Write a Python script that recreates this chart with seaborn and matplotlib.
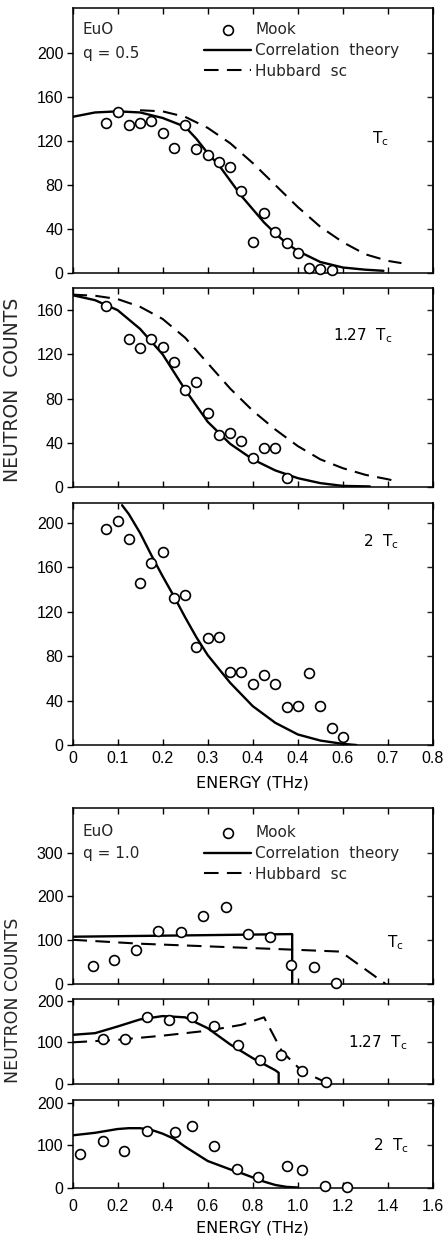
import numpy as np
import pandas as pd
import matplotlib
matplotlib.use("Agg")
import matplotlib.pyplot as plt
from matplotlib.ticker import FixedFormatter, FixedLocator
import seaborn as sns

# ---------------- data ----------------
# q = 0.5, T = Tc
p1_mook_x = [0.075, 0.1, 0.125, 0.15, 0.175, 0.2, 0.225, 0.25, 0.275, 0.3, 0.325,
             0.35, 0.375, 0.4, 0.425, 0.45, 0.475, 0.5, 0.525, 0.55, 0.575]
p1_mook_y = [136, 146, 135, 136, 138, 127, 114, 135, 113, 107, 101,
             96, 75, 28, 55, 37, 27, 18, 5, 4, 3]
p1_corr_x = [0, 0.05, 0.1, 0.15, 0.2, 0.25, 0.275, 0.3, 0.325, 0.35, 0.375, 0.4,
             0.425, 0.45, 0.475, 0.5, 0.55, 0.6, 0.65, 0.69]
p1_corr_y = [142, 146, 147, 146, 141, 133, 122, 109, 98, 84, 70, 58,
             46, 36, 27, 20, 10, 5, 3, 2]
p1_hub_x = [0.15, 0.2, 0.25, 0.3, 0.35, 0.4, 0.45, 0.5, 0.55, 0.6, 0.65, 0.7, 0.73]
p1_hub_y = [148, 147, 142, 132, 118, 100, 80, 60, 42, 28, 17, 11, 9]

# q = 0.5, T = 1.27 Tc
p2_mook_x = [0.075, 0.125, 0.15, 0.175, 0.2, 0.225, 0.25, 0.275, 0.3, 0.325,
             0.35, 0.375, 0.4, 0.425, 0.45, 0.475]
p2_mook_y = [164, 134, 126, 134, 127, 113, 88, 95, 67, 47, 49, 42, 26, 35, 35, 8]
p2_corr_x = [0, 0.05, 0.1, 0.15, 0.2, 0.25, 0.3, 0.35, 0.4, 0.45, 0.5, 0.55, 0.6, 0.66]
p2_corr_y = [173.5, 169, 160, 143, 120, 88, 59, 39, 25, 15, 8, 3.5, 1, 0.5]
p2_hub_x = [0, 0.05, 0.1, 0.15, 0.2, 0.25, 0.3, 0.35, 0.4, 0.45, 0.5, 0.55,
            0.6, 0.65, 0.7, 0.72]
p2_hub_y = [174, 173, 170, 163, 152, 135, 112, 89, 69, 52, 37, 25, 17, 11, 7, 5]

# q = 0.5, T = 2 Tc
p3_mook_x = [0.075, 0.1, 0.125, 0.15, 0.175, 0.2, 0.225, 0.25, 0.275, 0.3, 0.325,
             0.35, 0.375, 0.4, 0.425, 0.45, 0.475, 0.5, 0.525, 0.55, 0.575, 0.6]
p3_mook_y = [195, 202, 186, 146, 164, 174, 132, 135, 88, 96, 97,
             66, 66, 55, 63, 55, 34, 35, 65, 35, 15, 7]
p3_corr_x = [0.11, 0.125, 0.15, 0.175, 0.2, 0.225, 0.25, 0.275, 0.3, 0.35, 0.4,
             0.45, 0.5, 0.55, 0.6, 0.63]
p3_corr_y = [216, 208, 191, 171, 152, 134, 115, 97, 81, 56, 35, 20, 9.5, 4, 1, 0]

# q = 1.0, T = Tc
p4_mook_x = [0.09, 0.185, 0.28, 0.38, 0.48, 0.58, 0.68, 0.78, 0.875, 0.97, 1.07, 1.17]
p4_mook_y = [42, 55, 78, 122, 118, 156, 176, 114, 108, 43, 38, 3]
p4_corr_x = [0, 0.5, 0.975, 0.975]
p4_corr_y = [108, 111, 114, 0]
p4_hub_x = [0, 0.3, 0.6, 0.95, 1.19, 1.39]
p4_hub_y = [101, 92, 86, 79, 74, 0]

# q = 1.0, T = 1.27 Tc
p5_mook_x = [0.135, 0.235, 0.33, 0.43, 0.53, 0.63, 0.735, 0.83, 0.925, 1.02, 1.125]
p5_mook_y = [107, 107, 162, 153, 160, 139, 94, 58, 70, 31, 6]
p5_corr_x = [0, 0.1, 0.2, 0.3, 0.4, 0.5, 0.6, 0.7, 0.8, 0.9, 0.915, 0.915]
p5_corr_y = [118, 122, 138, 155, 163, 160, 134, 95, 62, 33, 27, 0]
p5_hub_x = [0, 0.2, 0.4, 0.6, 0.75, 0.85, 0.93, 1.02, 1.125]
p5_hub_y = [100, 106, 116, 128, 142, 160, 78, 30, 4]

# q = 1.0, T = 2 Tc
p6_mook_x = [0.035, 0.135, 0.23, 0.33, 0.455, 0.53, 0.63, 0.73, 0.825, 0.95, 1.02, 1.12, 1.22]
p6_mook_y = [80, 111, 86, 134, 131, 147, 98, 45, 24, 50, 42, 3, 2]
p6_corr_x = [0, 0.1, 0.2, 0.25, 0.3, 0.35, 0.4, 0.45, 0.5, 0.55, 0.6, 0.65,
             0.7, 0.75, 0.8, 0.85, 0.9, 0.95, 1.0]
p6_corr_y = [124, 130, 139, 141, 141, 137, 128, 116, 97, 80, 63, 53,
             43, 34, 24, 14, 6, 1.5, 0]

# ticks / labels
top_xticks = [0, 0.1, 0.2, 0.3, 0.4, 0.5, 0.6, 0.7, 0.8]
top_xticklabels = ["0", "0.1", "0.2", "0.3", "0.4", "0.4", "0.6", "0.7", "0.8"]
bot_xticks = [0, 0.2, 0.4, 0.6, 0.8, 1.0, 1.2, 1.4, 1.6]
bot_xticklabels = ["0", "0.2", "0.4", "0.6", "0.8", "1.0", "1.2", "1.4", "1.6"]

# ---------------- style ----------------
sns.set_theme(style="ticks")
plt.rcParams["font.family"] = ["DejaVu Sans"]
plt.rcParams["mathtext.default"] = "regular"
plt.rcParams["axes.linewidth"] = 1.1

TICKFONT = dict(family=["Liberation Sans", "DejaVu Sans"], size=11.5)
TXT = 11

fig = plt.figure(figsize=(4.45, 12.39), dpi=100)
L, W = 72.5 / 445, (433 - 72.5) / 445


def axes_px(top, bottom):
    return fig.add_axes([L, 1 - bottom / 1239, W, (bottom - top) / 1239])


def style_axes(ax, xlim, ylim, xticks, yticks, xlabels=None, xpad=4):
    ax.set_xlim(*xlim)
    ax.set_ylim(*ylim)
    ax.xaxis.set_major_locator(FixedLocator(xticks))
    ax.yaxis.set_major_locator(FixedLocator(yticks))
    ax.yaxis.set_major_formatter(FixedFormatter([str(v) for v in yticks]))
    if xlabels is None:
        ax.xaxis.set_major_formatter(FixedFormatter([""] * len(xticks)))
    else:
        ax.xaxis.set_major_formatter(FixedFormatter(xlabels))
    ax.tick_params(axis="x", direction="in", top=True, bottom=True, length=4.5,
                   width=1.0, colors="black", pad=xpad,
                   labelsize=TICKFONT["size"], labelfontfamily=TICKFONT["family"][0])
    ax.tick_params(axis="y", direction="out", left=True, right=False, length=4,
                   width=1.0, colors="black", pad=2.5,
                   labelsize=TICKFONT["size"], labelfontfamily=TICKFONT["family"][0])
    sec = ax.secondary_yaxis("right")
    sec.set_yticks(yticks)
    sec.tick_params(direction="in", length=4.5, width=1.0, labelright=False)
    for s in ax.spines.values():
        s.set_color("black")
    ax.set_xlabel("")
    ax.set_ylabel("")


def draw(ax, mx, my, cx=None, cy=None, hx=None, hy=None, with_labels=False):
    if cx is not None:
        sns.lineplot(x=cx, y=cy, ax=ax, sort=False, estimator=None, color="black",
                     lw=1.7, label="Correlation  theory" if with_labels else None,
                     legend=False)
    if hx is not None:
        sns.lineplot(x=hx, y=hy, ax=ax, sort=False, estimator=None, color="black",
                     lw=1.5, dashes=False, linestyle=(0, (7, 4)),
                     label="Hubbard  sc" if with_labels else None, legend=False)
    sns.scatterplot(x=mx, y=my, ax=ax, marker="o", s=50, facecolor="white",
                    edgecolor="black", linewidth=1.2, zorder=5, clip_on=False,
                    label="Mook" if with_labels else None, legend=False)
    if with_labels:
        h, l = ax.get_legend_handles_labels()
        order = [l.index("Mook"), l.index("Correlation  theory"), l.index("Hubbard  sc")]
        ax.legend([h[i] for i in order], [l[i] for i in order], loc="upper left",
                  frameon=False, fontsize=TXT, handlelength=3.1, handletextpad=0.25,
                  labelspacing=0.38, borderpad=0, borderaxespad=0, scatterpoints=1,
                  bbox_to_anchor=with_labels)


def tc_label(ax, prefix, xf, yf):
    ax.text(xf, yf, prefix + "T$_c$", transform=ax.transAxes, fontsize=TXT,
            ha="left", va="center", color="black")


# ---------------- top group (q = 0.5) ----------------
ax1 = axes_px(8, 273)
draw(ax1, p1_mook_x, p1_mook_y, p1_corr_x, p1_corr_y, p1_hub_x, p1_hub_y,
     with_labels=(0.365, 0.947))
style_axes(ax1, (0, 0.8), (0, 241), top_xticks, [0, 40, 80, 120, 160, 200])
ax1.text(0.029, 0.917, "EuO", transform=ax1.transAxes, fontsize=TXT, va="center")
ax1.text(0.029, 0.830, "q = 0.5", transform=ax1.transAxes, fontsize=TXT, va="center")
tc_label(ax1, "", 0.831, 0.506)

ax2 = axes_px(288, 487)
draw(ax2, p2_mook_x, p2_mook_y, p2_corr_x, p2_corr_y, p2_hub_x, p2_hub_y)
style_axes(ax2, (0, 0.8), (0, 180), top_xticks, [0, 40, 80, 120, 160])
tc_label(ax2, "1.27  ", 0.7226, 0.759)

ax3 = axes_px(503, 745)
draw(ax3, p3_mook_x, p3_mook_y, p3_corr_x, p3_corr_y)
style_axes(ax3, (0, 0.8), (0, 218), top_xticks, [0, 40, 80, 120, 160, 200],
           xlabels=top_xticklabels, xpad=4)
ax3.set_xlabel("ENERGY (THz)", fontsize=11.5, labelpad=7, color="black")
tc_label(ax3, "2  ", 0.806, 0.839)

fig.text(13 / 445, 1 - 390 / 1239, "NEUTRON  COUNTS", rotation=90, ha="center",
         va="center", fontsize=13.5)

# ---------------- bottom group (q = 1.0) ----------------
ax4 = axes_px(808, 984)
draw(ax4, p4_mook_x, p4_mook_y, p4_corr_x, p4_corr_y, p4_hub_x, p4_hub_y,
     with_labels=(0.365, 0.903))
style_axes(ax4, (0, 1.6), (0, 402), bot_xticks, [0, 100, 200, 300])
ax4.text(0.029, 0.864, "EuO", transform=ax4.transAxes, fontsize=TXT, va="center")
ax4.text(0.029, 0.744, "q = 1.0", transform=ax4.transAxes, fontsize=TXT, va="center")
tc_label(ax4, "", 0.872, 0.233)

ax5 = axes_px(999, 1084)
draw(ax5, p5_mook_x, p5_mook_y, p5_corr_x, p5_corr_y, p5_hub_x, p5_hub_y)
style_axes(ax5, (0, 1.6), (0, 204), bot_xticks, [0, 100, 200])
tc_label(ax5, "1.27  ", 0.764, 0.482)

ax6 = axes_px(1100, 1187.5)
draw(ax6, p6_mook_x, p6_mook_y, p6_corr_x, p6_corr_y)
style_axes(ax6, (0, 1.6), (0, 208), bot_xticks, [0, 100, 200],
           xlabels=bot_xticklabels, xpad=8)
ax6.set_xlabel("ENERGY (THz)", fontsize=11.5, labelpad=5, color="black")
tc_label(ax6, "2  ", 0.834, 0.474)

fig.text(13 / 445, 1 - 1000 / 1239, "NEUTRON COUNTS", rotation=90, ha="center",
         va="center", fontsize=12.5)

fig.savefig("out.png", dpi=100, facecolor="white")
